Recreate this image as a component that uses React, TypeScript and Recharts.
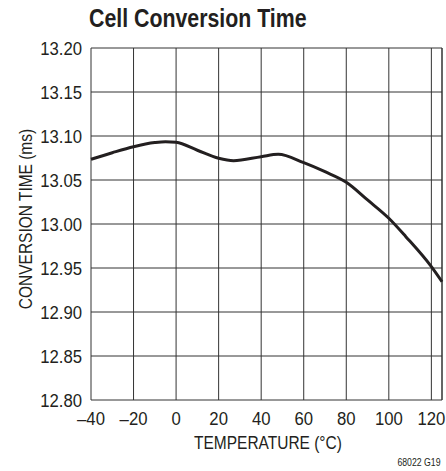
import React from 'react';
import { LineChart, Line, XAxis, YAxis, CartesianGrid, ReferenceLine } from 'recharts';

const temperatures = [-40, -30, -20, -10, -5, 0, 10, 20, 27, 40, 48, 60, 70, 80, 90, 100, 108, 120, 125];
const conversionTime = [13.0735, 13.081, 13.0878, 13.0925, 13.0935, 13.0928, 13.0838, 13.0747, 13.072, 13.0765, 13.0792, 13.0697, 13.0594, 13.0474, 13.0273, 13.0065, 12.9856, 12.9515, 12.9344];

const xTicks = [-40, -20, 0, 20, 40, 60, 80, 100, 120];
const yTicks = [12.8, 12.85, 12.9, 12.95, 13.0, 13.05, 13.1, 13.15, 13.2];

const title = 'Cell Conversion Time';
const xLabel = 'TEMPERATURE (°C)';
const yLabel = 'CONVERSION TIME (ms)';
const footnote = '68022 G19';

const data = temperatures.map((t, i) => ({ t, v: conversionTime[i] }));

// Liberation Sans squeezed horizontally, to get a Helvetica Condensed look
const font = '"Liberation Sans", Arial, sans-serif';
const ink = '#231f20';

const XTick = (props: any) => {
    const { x, y, payload } = props;
    return (
        <text
            transform={`translate(${x},${y}) scale(0.88,1)`}
            textAnchor="middle"
            dy="0.71em"
            fill={ink}
            fontSize={19}
            fontFamily={font}
        >
            {String(payload.value).replace('-', '\u2013')}
        </text>
    );
};

const YTick = (props: any) => {
    const { x, y, payload } = props;
    return (
        <text
            transform={`translate(${x},${y}) scale(0.88,1)`}
            textAnchor="end"
            dy="0.355em"
            fill={ink}
            fontSize={19}
            fontFamily={font}
        >
            {Number(payload.value).toFixed(2)}
        </text>
    );
};

const App = () => {
    return (
        <div style={{ position: 'absolute', left: 0, top: 0, width: 446, height: 471, fontFamily: font, color: ink }}>
            <div style={{ position: 'absolute', left: 89, top: 5, fontSize: 26, fontWeight: 'bold', lineHeight: '26px', whiteSpace: 'nowrap', transform: 'scaleX(0.82)', transformOrigin: 'left center' }}>
                {title}
            </div>
            <LineChart
                width={446}
                height={471}
                data={data}
                margin={{ top: 48, right: 4, left: 0, bottom: 0 }}
            >
                <CartesianGrid stroke="#333" strokeWidth={1} />
                <XAxis
                    dataKey="t"
                    type="number"
                    domain={[-40, 125]}
                    ticks={xTicks}
                    height={71}
                    axisLine={false}
                    tickLine={false}
                    tickSize={0}
                    tickMargin={11}
                    tick={<XTick />}
                />
                <YAxis
                    type="number"
                    domain={[12.8, 13.2]}
                    ticks={yTicks}
                    width={91}
                    axisLine={false}
                    tickLine={false}
                    tickSize={0}
                    tickMargin={9}
                    tick={<YTick />}
                />
                <ReferenceLine x={125} stroke="#333" strokeWidth={1} />
                <Line
                    type="monotone"
                    dataKey="v"
                    stroke={ink}
                    strokeWidth={3}
                    dot={false}
                    isAnimationActive={false}
                />
            </LineChart>
            <div style={{ position: 'absolute', left: 268, top: 434, fontSize: 18, lineHeight: '18px', whiteSpace: 'nowrap', transform: 'translateX(-50%) scaleX(0.86)' }}>
                {xLabel}
            </div>
            <div style={{ position: 'absolute', left: 25.5, top: 219, fontSize: 18, lineHeight: '18px', whiteSpace: 'nowrap', transform: 'translate(-50%,-50%) rotate(-90deg) scaleX(0.86)' }}>
                {yLabel}
            </div>
            <div style={{ position: 'absolute', right: 6, top: 458, fontSize: 10, lineHeight: '10px', whiteSpace: 'nowrap', transform: 'scaleX(0.87)', transformOrigin: 'right center' }}>
                {footnote}
            </div>
        </div>
    );
};

export default App;
